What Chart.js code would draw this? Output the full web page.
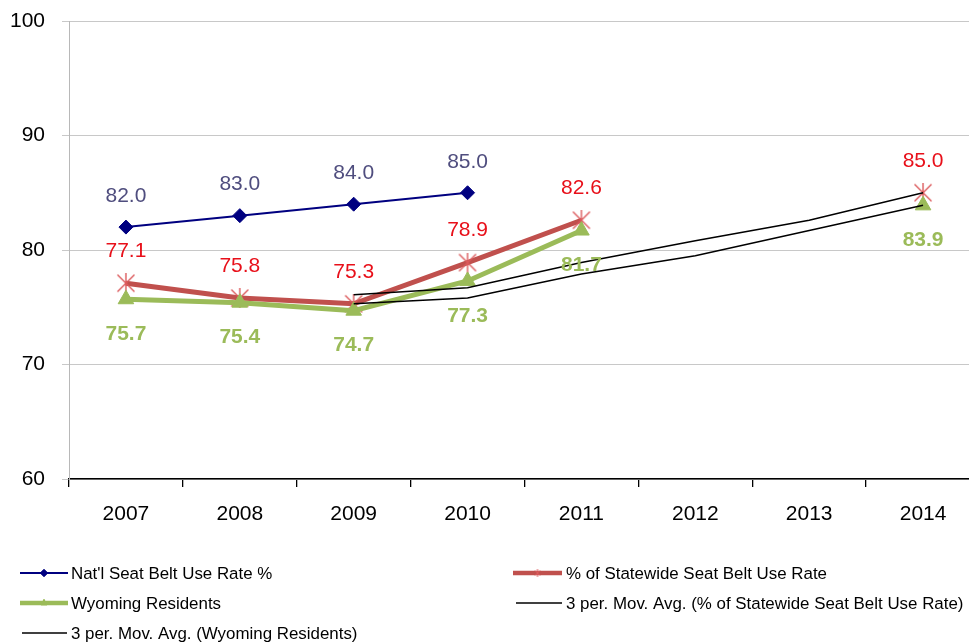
<!DOCTYPE html>
<html>
<head>
<meta charset="utf-8">
<script src="https://cdn.jsdelivr.net/npm/chart.js@4/dist/chart.umd.min.js"></script>
<style>
  html, body { margin: 0; padding: 0; background: #fff; overflow: hidden; }
  #wrap { width: 995px; height: 643px; }
</style>
</head>
<body>
<div id="wrap"><canvas id="c" width="995" height="643"></canvas></div>
<script>
const years = ['2007', '2008', '2009', '2010', '2011', '2012', '2013', '2014'];
const natl = [82.0, 83.0, 84.0, 85.0, null, null, null, null];
const statewide = [77.1, 75.8, 75.3, 78.9, 82.6, null, null, 85.0];
const wyoming = [75.7, 75.4, 74.7, 77.3, 81.7, null, null, 83.9];
const maStatewide = [null, null, 76.1, 76.7, 78.9, 80.8, 82.6, 85.0];
const maWyoming = [null, null, 75.3, 75.8, 77.9, 79.5, 81.7, 83.9];
const yTicks = [60, 70, 80, 90, 100];
const seriesNames = [
  "Nat'l Seat Belt Use Rate %",
  "% of Statewide Seat Belt Use Rate",
  "Wyoming Residents",
  "3 per. Mov. Avg. (% of Statewide Seat Belt Use Rate)",
  "3 per. Mov. Avg. (Wyoming Residents)"
];

const FONT = "'Liberation Sans', Arial, sans-serif";

function makeStar(size, color, lw) {
  const cv = document.createElement('canvas');
  cv.width = size; cv.height = size;
  const g = cv.getContext('2d');
  g.strokeStyle = color; g.lineWidth = lw; g.lineCap = 'butt';
  const m = 1.5, s = size - 1.5;
  g.beginPath();
  g.moveTo(m, m); g.lineTo(s, s);
  g.moveTo(s, m); g.lineTo(m, s);
  g.moveTo(size / 2, 0); g.lineTo(size / 2, size);
  g.stroke();
  return cv;
}
const starBig = makeStar(20, '#dc5a5c', 1.4);
const starSmall = makeStar(8, '#dc5a5c', 1);

const valueLabels = {
  id: 'valueLabels',
  afterDatasetsDraw(chart) {
    const ctx = chart.ctx;
    chart.data.datasets.forEach((ds, i) => {
      if (!ds.valueLabel) return;
      const meta = chart.getDatasetMeta(i);
      ctx.save();
      ctx.font = ds.valueLabel.font;
      ctx.fillStyle = ds.valueLabel.color;
      ctx.textAlign = 'center';
      ctx.textBaseline = 'middle';
      meta.data.forEach((pt, j) => {
        const v = ds.data[j];
        if (v === null || v === undefined) return;
        ctx.fillText(v.toFixed(1), pt.x, pt.y + ds.valueLabel.dy);
      });
      ctx.restore();
    });
  }
};

function drawMarker(ctx, style, x, y, r, fill, stroke) {
  ctx.save();
  if (style instanceof HTMLCanvasElement) {
    ctx.drawImage(style, x - style.width / 2, y - style.height / 2);
  } else {
    ctx.fillStyle = fill; ctx.strokeStyle = stroke; ctx.lineWidth = 1;
    Chart.helpers.drawPoint(ctx, { pointStyle: style, radius: r, borderWidth: 1 }, x, y);
    ctx.fill(); ctx.stroke();
  }
  ctx.restore();
}

const customLegend = {
  id: 'customLegend',
  afterDraw(chart) {
    const ctx = chart.ctx;
    const items = [
      { x1: 20, x2: 68, y: 573, color: '#000080', w: 2, marker: 'rectRot', mfill: '#000080', text: seriesNames[0], tx: 71 },
      { x1: 513, x2: 562, y: 573, color: '#c0504d', w: 4.5, marker: starSmall, mfill: '#d98a88', text: seriesNames[1], tx: 566 },
      { x1: 20, x2: 68, y: 603, color: '#9bbb59', w: 4.5, marker: 'triangle', mfill: '#9bbb59', text: seriesNames[2], tx: 71 },
      { x1: 516, x2: 562, y: 603, color: '#000', w: 1.3, marker: null, text: seriesNames[3], tx: 566 },
      { x1: 22, x2: 67, y: 633, color: '#000', w: 1.3, marker: null, text: seriesNames[4], tx: 71 }
    ];
    ctx.save();
    items.forEach(it => {
      ctx.strokeStyle = it.color; ctx.lineWidth = it.w;
      ctx.beginPath(); ctx.moveTo(it.x1, it.y); ctx.lineTo(it.x2, it.y); ctx.stroke();
      if (it.marker) {
        drawMarker(ctx, it.marker, (it.x1 + it.x2) / 2, it.y, 3.5, it.mfill, it.mfill);
      }
      ctx.fillStyle = '#000';
      ctx.font = '16.9px ' + FONT;
      ctx.textAlign = 'left'; ctx.textBaseline = 'middle';
      ctx.fillText(it.text, it.tx, it.y + 1);
    });
    ctx.restore();
  }
};

new Chart(document.getElementById('c'), {
  type: 'line',
  data: {
    labels: years,
    datasets: [
      {
        label: seriesNames[3], data: maStatewide, borderColor: '#000', borderWidth: 1.5,
        pointRadius: 0, fill: false, spanGaps: false, order: 0, tension: 0
      },
      {
        label: seriesNames[4], data: maWyoming, borderColor: '#000', borderWidth: 1.5,
        pointRadius: 0, fill: false, spanGaps: false, order: 0, tension: 0
      },
      {
        label: seriesNames[2], data: wyoming, borderColor: '#9bbb59', backgroundColor: '#9bbb59',
        borderWidth: 5, pointStyle: 'triangle', pointRadius: 9, pointBorderWidth: 1,
        pointBorderColor: '#9bbb59', pointBackgroundColor: '#9bbb59', spanGaps: false, order: 1,
        valueLabel: { font: 'bold 21px ' + FONT, color: '#9bbb59', dy: 35 }
      },
      {
        label: seriesNames[1], data: statewide, borderColor: '#c0504d', backgroundColor: '#c0504d',
        borderWidth: 5, pointStyle: starBig, pointRadius: 10, spanGaps: false, order: 2,
        valueLabel: { font: '21px ' + FONT, color: '#e8101a', dy: -32 }
      },
      {
        label: seriesNames[0], data: natl, borderColor: '#000080', backgroundColor: '#000080',
        borderWidth: 2, pointStyle: 'rectRot', pointRadius: 7, pointBorderWidth: 1,
        pointBorderColor: '#000080', pointBackgroundColor: '#000080', spanGaps: false, order: 3,
        valueLabel: { font: '21px ' + FONT, color: '#4f4d7e', dy: -31 }
      }
    ]
  },
  options: {
    responsive: false,
    animation: false,
    layout: { padding: { top: 21, right: 4, bottom: 0, left: 0 } },
    plugins: { legend: { display: false }, tooltip: { enabled: false } },
    scales: {
      x: {
        offset: true,
        grid: { display: true, offset: true, drawOnChartArea: false, color: '#000', tickLength: 8, lineWidth: 1.3 },
        border: { display: true, color: '#000', width: 1.5 },
        ticks: { color: '#000', font: { family: FONT, size: 21 }, padding: 15, maxRotation: 0 },
        afterFit(scale) {
          scale.height = 164;
          scale.paddingLeft = 0; scale.paddingRight = 0;
        }
      },
      y: {
        min: 60, max: 100,
        afterBuildTicks(scale) { scale.ticks = yTicks.map(v => ({ value: v })); },
        grid: { color: '#c8c8c8', lineWidth: 1, tickLength: 7 },
        border: { display: true, color: '#b8b8b8', width: 1 },
        ticks: { color: '#000', font: { family: FONT, size: 21 }, padding: 17 },
        afterFit(scale) {
          scale.width = 69;
          scale.paddingTop = 0; scale.paddingBottom = 0;
        }
      }
    }
  },
  plugins: [valueLabels, customLegend]
});
</script>
</body>
</html>
